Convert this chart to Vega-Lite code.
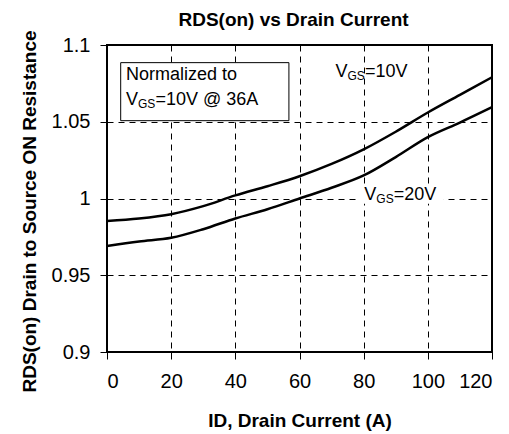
{
  "$schema": "https://vega.github.io/schema/vega-lite/v6.json",
  "width": 385,
  "height": 307,
  "autosize": {"type": "none"},
  "padding": {"left": 107, "top": 45, "right": 17, "bottom": 82},
  "background": "white",
  "config": {
    "font": "Liberation Sans",
    "view": {"stroke": "black", "strokeWidth": 2},
    "axis": {
      "labelFont": "Liberation Sans",
      "labelFontSize": 20,
      "labelColor": "black",
      "titleFont": "Liberation Sans",
      "titleFontSize": 19,
      "titleFontWeight": "bold",
      "titleColor": "black",
      "tickColor": "black",
      "tickSize": 7,
      "tickWidth": 1,
      "domain": false,
      "grid": true,
      "gridColor": "black",
      "gridDash": [6, 5],
      "gridWidth": 1,
      "gridOpacity": 1
    },
    "title": {"font": "Liberation Sans", "fontSize": 19, "fontWeight": "bold", "color": "black"}
  },
  "title": {"text": "RDS(on) vs Drain Current", "offset": 0, "dx": -6},
  "datasets": {
    "curves": [
      {"id": 0, "r": 0.9854, "vgs": "10V"},
      {"id": 10, "r": 0.9870, "vgs": "10V"},
      {"id": 20, "r": 0.9898, "vgs": "10V"},
      {"id": 30, "r": 0.9950, "vgs": "10V"},
      {"id": 40, "r": 1.0020, "vgs": "10V"},
      {"id": 50, "r": 1.0080, "vgs": "10V"},
      {"id": 60, "r": 1.0145, "vgs": "10V"},
      {"id": 70, "r": 1.0225, "vgs": "10V"},
      {"id": 80, "r": 1.0320, "vgs": "10V"},
      {"id": 90, "r": 1.0435, "vgs": "10V"},
      {"id": 100, "r": 1.0560, "vgs": "10V"},
      {"id": 110, "r": 1.0675, "vgs": "10V"},
      {"id": 120, "r": 1.0790, "vgs": "10V"},
      {"id": 0, "r": 0.9690, "vgs": "20V"},
      {"id": 10, "r": 0.9720, "vgs": "20V"},
      {"id": 20, "r": 0.9744, "vgs": "20V"},
      {"id": 30, "r": 0.9800, "vgs": "20V"},
      {"id": 40, "r": 0.9870, "vgs": "20V"},
      {"id": 50, "r": 0.9930, "vgs": "20V"},
      {"id": 60, "r": 1.0000, "vgs": "20V"},
      {"id": 70, "r": 1.0070, "vgs": "20V"},
      {"id": 80, "r": 1.0150, "vgs": "20V"},
      {"id": 90, "r": 1.0270, "vgs": "20V"},
      {"id": 100, "r": 1.0400, "vgs": "20V"},
      {"id": 110, "r": 1.0495, "vgs": "20V"},
      {"id": 120, "r": 1.0595, "vgs": "20V"}
    ],
    "boxes": [
      {"x1": 4.27, "x2": 56.7, "y1": 1.0885, "y2": 1.0507, "kind": "note"},
      {"x1": 78.5, "x2": 105, "y1": 1.0085, "y2": 0.9965, "kind": "mask"}
    ],
    "labels": [
      {"x": 71.2, "y": 1.0826, "main": "V", "sub": "GS", "rest": "=10V"},
      {"x": 80.2, "y": 1.0023, "main": "V", "sub": "GS", "rest": "=20V"},
      {"x": 5.9, "y": 1.0642, "main": "V", "sub": "GS", "rest": "=10V @ 36A"}
    ],
    "notes": [
      {"x": 5.9, "y": 1.0805, "text": "Normalized to"}
    ]
  },
  "layer": [
    {
      "data": {"name": "boxes"},
      "transform": [{"filter": "datum.kind == 'note'"}],
      "mark": {"type": "rect", "fill": "white", "stroke": "black", "strokeWidth": 1},
      "encoding": {
        "x": {"field": "x1", "type": "quantitative", "scale": {"domain": [0, 120], "nice": false, "zero": false},
          "axis": {"values": [0, 20, 40, 60, 80, 100, 120], "title": "ID, Drain Current (A)", "labelPadding": 12, "titlePadding": 20}},
        "x2": {"field": "x2"},
        "y": {"field": "y1", "type": "quantitative", "scale": {"domain": [0.9, 1.1], "nice": false, "zero": false},
          "axis": {"values": [0.9, 0.95, 1, 1.05, 1.1], "labelExpr": "'' + datum.value", "title": "RDS(on) Drain to Source ON Resistance", "labelPadding": 10, "titlePadding": 12, "titleY": 166}},
        "y2": {"field": "y2"}
      }
    },
    {
      "data": {"name": "boxes"},
      "transform": [{"filter": "datum.kind == 'mask'"}],
      "mark": {"type": "rect", "fill": "white"},
      "encoding": {
        "x": {"field": "x1", "type": "quantitative"},
        "x2": {"field": "x2"},
        "y": {"field": "y1", "type": "quantitative"},
        "y2": {"field": "y2"}
      }
    },
    {
      "data": {"name": "curves"},
      "mark": {"type": "line", "color": "black", "strokeWidth": 2.5, "interpolate": "monotone"},
      "encoding": {
        "x": {"field": "id", "type": "quantitative"},
        "y": {"field": "r", "type": "quantitative"},
        "detail": {"field": "vgs"}
      }
    },
    {
      "data": {"name": "notes"},
      "mark": {"type": "text", "align": "left", "baseline": "middle", "fontSize": 18, "color": "black"},
      "encoding": {
        "x": {"field": "x", "type": "quantitative"},
        "y": {"field": "y", "type": "quantitative"},
        "text": {"field": "text"}
      }
    },
    {
      "data": {"name": "labels"},
      "mark": {"type": "text", "align": "left", "baseline": "middle", "fontSize": 18, "color": "black"},
      "encoding": {
        "x": {"field": "x", "type": "quantitative"},
        "y": {"field": "y", "type": "quantitative"},
        "text": {"field": "main"}
      }
    },
    {
      "data": {"name": "labels"},
      "mark": {"type": "text", "align": "left", "baseline": "middle", "fontSize": 12, "color": "black", "dx": 12, "dy": 4},
      "encoding": {
        "x": {"field": "x", "type": "quantitative"},
        "y": {"field": "y", "type": "quantitative"},
        "text": {"field": "sub"}
      }
    },
    {
      "data": {"name": "labels"},
      "mark": {"type": "text", "align": "left", "baseline": "middle", "fontSize": 18, "color": "black", "dx": 29.5},
      "encoding": {
        "x": {"field": "x", "type": "quantitative"},
        "y": {"field": "y", "type": "quantitative"},
        "text": {"field": "rest"}
      }
    }
  ]
}
